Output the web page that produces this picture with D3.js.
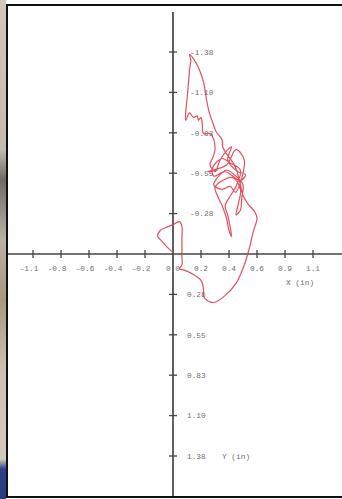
<!DOCTYPE html>
<html>
<head>
<meta charset="utf-8">
<script src="https://cdn.jsdelivr.net/npm/d3@7"></script>
<style>
  html, body { margin: 0; padding: 0; background: #fff; }
  svg { display: block; }
  .lbl { font-family: "Liberation Mono", "DejaVu Sans Mono", monospace; font-size: 7.8px; fill: #707070; }
</style>
</head>
<body>
<script>
// Horizontal axis ticks (inches) and their printed labels
const xTickValues = [-1.1, -0.88, -0.66, -0.44, -0.22, 0, 0.22, 0.44, 0.66, 0.88, 1.1];
const xTickLabels = ["-1.1", "-0.8", "-0.6", "-0.4", "-0.2", "0.0", "0.2", "0.4", "0.6", "0.9", "1.1"];

// Vertical axis ticks (inches, positive downward) and their printed labels
const yTickValues = [-1.375, -1.1, -0.825, -0.55, -0.275, 0.275, 0.55, 0.825, 1.1, 1.375];
const yTickLabels = ["-1.38", "-1.10", "-0.83", "-0.55", "-0.28", "0.28", "0.55", "0.83", "1.10", "1.38"];

// Recorded path of the tracked point, X and Y in inches
const traceX = [0.00, -0.05, -0.09, -0.12, -0.10, -0.055, 0.00, 0.05, 0.07, 0.07, 0.07, 0.07, 0.05, 0.09,
  0.16, 0.22, 0.24, 0.24, 0.275, 0.32, 0.40, 0.495, 0.56, 0.60, 0.63, 0.66, 0.64, 0.59, 0.55, 0.53,
  0.51, 0.48, 0.43, 0.39, 0.385, 0.34, 0.31, 0.28, 0.26, 0.24, 0.20, 0.16, 0.13, 0.14, 0.13, 0.12,
  0.11, 0.10, 0.10, 0.13, 0.16, 0.19, 0.20, 0.22, 0.23, 0.24, 0.29, 0.32, 0.33, 0.31, 0.29, 0.33,
  0.37, 0.43, 0.46, 0.43, 0.51, 0.57, 0.53, 0.41, 0.32, 0.31, 0.385, 0.45, 0.53, 0.495, 0.45, 0.41,
  0.43, 0.45, 0.46, 0.44, 0.42, 0.385, 0.35, 0.33, 0.37, 0.47, 0.53, 0.51, 0.495, 0.53, 0.54, 0.55,
  0.495, 0.42, 0.35, 0.32, 0.385, 0.45, 0.49, 0.56, 0.495, 0.42, 0.275, 0.35];
const traceY = [-0.01, -0.05, -0.09, -0.12, -0.16, -0.18, -0.20, -0.22, -0.19, -0.10, 0.01, 0.075, 0.10, 0.11,
  0.14, 0.18, 0.24, 0.29, 0.32, 0.33, 0.29, 0.20, 0.075, -0.04, -0.15, -0.245, -0.29, -0.34, -0.40, -0.47,
  -0.54, -0.61, -0.67, -0.73, -0.78, -0.83, -0.90, -0.98, -1.07, -1.17, -1.27, -1.33, -1.36, -1.32, -1.25, -1.15,
  -1.05, -0.97, -0.91, -0.96, -0.93, -0.94, -0.91, -0.93, -0.885, -0.82, -0.82, -0.78, -0.71, -0.65, -0.61, -0.56,
  -0.64, -0.71, -0.73, -0.64, -0.56, -0.54, -0.50, -0.56, -0.53, -0.585, -0.65, -0.62, -0.57, -0.46, -0.395, -0.33,
  -0.265, -0.18, -0.12, -0.16, -0.245, -0.33, -0.395, -0.45, -0.49, -0.52, -0.44, -0.33, -0.265, -0.30, -0.38, -0.47,
  -0.53, -0.57, -0.52, -0.47, -0.44, -0.46, -0.42, -0.64, -0.71, -0.606, -0.56, -0.57];

const W = 342, H = 499;
const svg = d3.select("body").append("svg").attr("width", W).attr("height", H);

// Photo strip on the left edge and the black frame of the page
const strip = svg.append("defs").append("linearGradient")
  .attr("id", "strip").attr("x1", 0).attr("y1", 0).attr("x2", 0).attr("y2", 1);
[[0, "#cfc8bb"], [0.3, "#c2bbae"], [0.36, "#6d6a66"], [0.48, "#b9b2a4"], [0.6, "#a89880"],
 [0.75, "#cbc4b6"], [0.92, "#d2cbbd"], [0.94, "#2d3f86"], [1, "#2a3b7e"]]
  .forEach(([o, c]) => strip.append("stop").attr("offset", o).attr("stop-color", c));
svg.append("rect").attr("x", 0).attr("y", 0).attr("width", 6).attr("height", H).attr("fill", "url(#strip)");
svg.append("line").attr("x1", 7).attr("x2", W).attr("y1", 5).attr("y2", 5).attr("stroke", "#111").attr("stroke-width", 2);
svg.append("line").attr("x1", 7).attr("x2", W).attr("y1", 497).attr("y2", 497).attr("stroke", "#111").attr("stroke-width", 2);
svg.append("line").attr("x1", 7).attr("x2", 7).attr("y1", 4).attr("y2", 498).attr("stroke", "#111").attr("stroke-width", 2);

const x = d3.scaleLinear().domain([-1.1, 1.1]).range([33, 313]);
const y = d3.scaleLinear().domain([-1.375, 1.375]).range([52, 456]);

const axisColor = "#454545";
const g = svg.append("g");

// Axis lines through the origin
g.append("line").attr("x1", 8).attr("x2", W).attr("y1", y(0)).attr("y2", y(0))
  .attr("stroke", axisColor).attr("stroke-width", 1.7);
g.append("line").attr("x1", x(0)).attr("x2", x(0)).attr("y1", 12).attr("y2", 496)
  .attr("stroke", axisColor).attr("stroke-width", 1.7);

// Cross ticks on the X axis
g.selectAll(".xt").data(xTickValues.filter(v => v !== 0)).join("line")
  .attr("x1", d => x(d)).attr("x2", d => x(d))
  .attr("y1", y(0) - 4).attr("y2", y(0) + 4)
  .attr("stroke", axisColor).attr("stroke-width", 1.3);
g.selectAll(".xl").data(xTickValues).join("text").attr("class", "lbl")
  .attr("x", d => x(d) + (d < 0 ? -4 : 0)).attr("y", y(0) + 17)
  .attr("text-anchor", "middle")
  .text((d, i) => xTickLabels[i]);

// Cross ticks on the Y axis
g.selectAll(".yt").data(yTickValues).join("line")
  .attr("x1", x(0) - 4).attr("x2", x(0) + 4)
  .attr("y1", d => y(d)).attr("y2", d => y(d))
  .attr("stroke", axisColor).attr("stroke-width", 1.3);
g.selectAll(".yl").data(yTickValues).join("text").attr("class", "lbl")
  .attr("x", d => x(0) + (d < 0 ? 17 : 14)).attr("y", d => y(d) + 2.8)
  .text((d, i) => yTickLabels[i]);

// Axis titles
g.append("text").attr("class", "lbl").attr("x", 286).attr("y", y(0) + 31).text("X (in)");
g.append("text").attr("class", "lbl").attr("x", 222).attr("y", y(1.375) + 2.8).text("Y (in)");

// Trace
const pts = traceX.map((v, i) => [v, traceY[i]]);
const line = d3.line().x(d => x(d[0])).y(d => y(d[1])).curve(d3.curveCatmullRom.alpha(0.5));
svg.append("path").attr("d", line(pts))
  .attr("fill", "none").attr("stroke", "#de3e4c").attr("stroke-width", 1.2)
  .attr("stroke-linejoin", "round").attr("stroke-opacity", 0.9);
</script>
</body>
</html>
